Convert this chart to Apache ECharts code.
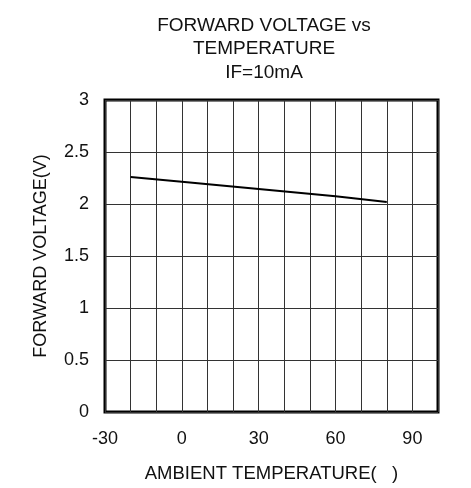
<!DOCTYPE html>
<html>
<head>
<meta charset="utf-8">
<script src="https://cdn.jsdelivr.net/npm/echarts@6/dist/echarts.min.js"></script>
<style>html,body{margin:0;padding:0;background:#fff}#c{width:471px;height:488px}</style>
</head>
<body>
<div id="c"></div>
<script>
var temperature = [-20, 0, 30, 60, 80];
var voltage = [2.26, 2.215, 2.145, 2.075, 2.02];
var xTickLabels = ['-30', '0', '30', '60', '90'];
var yTickLabels = ['0', '0.5', '1', '1.5', '2', '2.5', '3'];

var font = '"Liberation Sans", Arial, sans-serif';
var chart = echarts.init(document.getElementById('c'));
chart.setOption({
  animation: false,
  title: {
    text: 'FORWARD VOLTAGE vs\nTEMPERATURE\nIF=10mA',
    left: 259, top: 9, textAlign: 'center',
    textStyle: { fontFamily: font, fontSize: 19, fontWeight: 'normal', color: '#111', lineHeight: 23.5 }
  },
  grid: { left: 105, right: 33, top: 100, bottom: 71, show: true, borderColor: '#000', borderWidth: 3, backgroundColor: 'transparent' },
  xAxis: {
    type: 'value', min: -30, max: 100, interval: 10,
    name: 'AMBIENT TEMPERATURE(   )', nameLocation: 'middle', nameGap: 52,
    nameTextStyle: { fontFamily: font, fontSize: 18.5, color: '#111' },
    axisLine: { show: false }, axisTick: { show: false },
    axisLabel: {
      margin: 18, fontFamily: font, fontSize: 18, color: '#111',
      formatter: function (v) { var s = String(v); return xTickLabels.indexOf(s) >= 0 && v % 30 === 0 ? s : ''; }
    },
    splitLine: { show: true, lineStyle: { color: '#333', width: 1 } }
  },
  yAxis: {
    type: 'value', min: 0, max: 3, interval: 0.5,
    name: 'FORWARD VOLTAGE(V)', nameLocation: 'middle', nameGap: 55,
    nameTextStyle: { fontFamily: font, fontSize: 18, color: '#111' },
    axisLine: { show: false }, axisTick: { show: false },
    axisLabel: {
      margin: 16, fontFamily: font, fontSize: 18, color: '#111',
      formatter: function (v) { var s = String(v); return yTickLabels.indexOf(s) >= 0 ? s : ''; }
    },
    splitLine: { show: true, lineStyle: { color: '#333', width: 1 } }
  },
  series: [{
    type: 'line',
    data: temperature.map(function (t, i) { return [t, voltage[i]]; }),
    showSymbol: false, symbol: 'none',
    lineStyle: { color: '#000', width: 2 }
  }]
});
</script>
</body>
</html>
